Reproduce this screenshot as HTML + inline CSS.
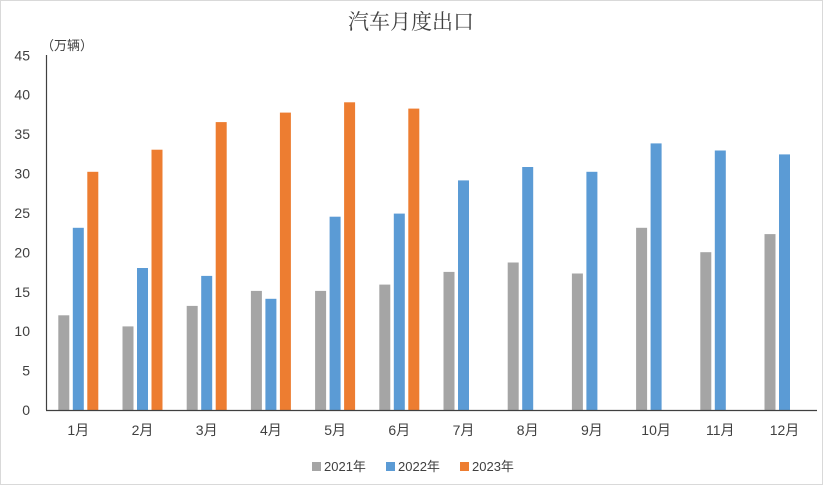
<!DOCTYPE html>
<html><head><meta charset="utf-8"><style>
html,body{margin:0;padding:0;background:#fff}
svg{display:block}
text{font-family:"Liberation Sans","Noto Sans CJK SC",sans-serif;fill:#404040}
</style></head><body>
<svg width="823" height="485" viewBox="0 0 823 485" xmlns="http://www.w3.org/2000/svg">
<rect x="0.5" y="0.5" width="822" height="484" fill="#fff" stroke="#d9d9d9"/>
<text x="411" y="29" font-size="21" text-anchor="middle" style="font-family:'Noto Serif CJK SC','Noto Sans CJK SC',serif" fill="#333">汽车月度出口</text>
<text x="41" y="50" font-size="13">（万辆）</text>
<g font-size="14" text-anchor="end">
<text x="30" y="415">0</text><text x="30" y="375.6">5</text><text x="30" y="336.2">10</text>
<text x="30" y="296.8">15</text><text x="30" y="257.3">20</text><text x="30" y="217.9">25</text>
<text x="30" y="178.5">30</text><text x="30" y="139.1">35</text><text x="30" y="99.7">40</text>
<text x="30" y="60.3">45</text>
</g>
<g fill="#A5A5A5">
<rect x="58.3" y="315.3" width="11" height="94.7"/>
<rect x="122.5" y="326.4" width="11" height="83.6"/>
<rect x="186.7" y="305.9" width="11" height="104.1"/>
<rect x="250.9" y="290.9" width="11" height="119.1"/>
<rect x="315.1" y="290.9" width="11" height="119.1"/>
<rect x="379.3" y="284.6" width="11" height="125.4"/>
<rect x="443.5" y="271.9" width="11" height="138.1"/>
<rect x="507.7" y="262.5" width="11" height="147.5"/>
<rect x="571.9" y="273.5" width="11" height="136.5"/>
<rect x="636.1" y="227.8" width="11" height="182.2"/>
<rect x="700.3" y="252.2" width="11" height="157.8"/>
<rect x="764.5" y="234.1" width="11" height="175.9"/>
</g>
<g fill="#5B9BD5">
<rect x="72.8" y="227.8" width="11" height="182.2"/>
<rect x="137" y="268" width="11" height="142"/>
<rect x="201.2" y="275.9" width="11" height="134.1"/>
<rect x="265.4" y="298.8" width="11" height="111.2"/>
<rect x="329.6" y="216.7" width="11" height="193.3"/>
<rect x="393.8" y="213.6" width="11" height="196.4"/>
<rect x="458" y="180.4" width="11" height="229.6"/>
<rect x="522.2" y="167" width="11" height="243"/>
<rect x="586.4" y="171.8" width="11" height="238.2"/>
<rect x="650.6" y="143.4" width="11" height="266.6"/>
<rect x="714.8" y="150.5" width="11" height="259.5"/>
<rect x="779" y="154.4" width="11" height="255.6"/>
</g>
<g fill="#ED7D31">
<rect x="87.3" y="171.8" width="11" height="238.2"/>
<rect x="151.5" y="149.7" width="11" height="260.3"/>
<rect x="215.7" y="122.1" width="11" height="287.9"/>
<rect x="279.9" y="112.6" width="11" height="297.4"/>
<rect x="344.1" y="102.3" width="11" height="307.7"/>
<rect x="408.3" y="108.6" width="11" height="301.4"/>
</g>
<line x1="46.5" y1="55" x2="46.5" y2="410" stroke="#404040" stroke-width="1.2"/>
<line x1="46" y1="410.5" x2="817" y2="410.5" stroke="#404040" stroke-width="1.2"/>
<g font-size="14" text-anchor="middle">
<text x="78.3" y="435">1月</text><text x="142.5" y="435">2月</text><text x="206.7" y="435">3月</text>
<text x="270.9" y="435">4月</text><text x="335.1" y="435">5月</text><text x="399.3" y="435">6月</text>
<text x="463.5" y="435">7月</text><text x="527.7" y="435">8月</text><text x="591.9" y="435">9月</text>
<text x="656.1" y="435">10月</text><text x="720.3" y="435">11月</text><text x="784.5" y="435">12月</text>
</g>
<g font-size="13">
<rect x="312" y="462" width="9" height="9" fill="#A5A5A5"/><text x="324" y="471">2021年</text>
<rect x="386" y="462" width="9" height="9" fill="#5B9BD5"/><text x="398" y="471">2022年</text>
<rect x="460" y="462" width="9" height="9" fill="#ED7D31"/><text x="472" y="471">2023年</text>
</g>
</svg>
</body></html>
